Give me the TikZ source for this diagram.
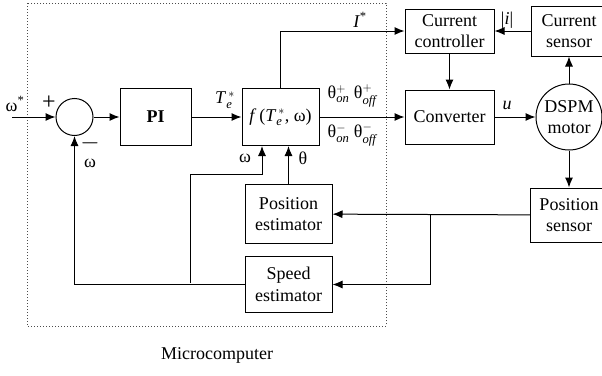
\documentclass[tikz,border=0pt]{standalone}
\usepackage{amsmath}
\usepackage{fontspec}
\setmainfont{Liberation Serif}
\usepackage{tikz}
\usetikzlibrary{arrows.meta,positioning}

\begin{document}
\begin{tikzpicture}[
  x=1pt,y=1pt,
  font=\fontsize{18}{21.5}\selectfont,
  blk/.style={draw,line width=1pt,align=center,inner sep=1pt},
  sumc/.style={draw,circle,line width=1pt,minimum size=37pt,inner sep=0pt},
  mot/.style={draw,circle,line width=1pt,minimum size=66pt,inner sep=0pt,
              align=center},
  arr/.style={-{Latex[length=10pt,width=8pt]},line width=1pt},
  lbl/.style={inner sep=0pt},
  sgn/.style={inner sep=0pt,font=\fontsize{24}{24}\selectfont}
]
\useasboundingbox (0,0) rectangle (602,-375);
% microcomputer frame
\draw[dotted,black!70,line width=1pt] (27,-3) rectangle (386,-326);
\node[lbl] (mc) at (217,-355) {Microcomputer};

% forward path
\node[sumc] (sum) at (74.5,-117) {};
\node[blk,minimum width=71pt,minimum height=57pt,right=26pt of sum] (pi) {\textbf{PI}};
\node[blk,minimum width=77pt,minimum height=57pt,right=50pt of pi] (f)
  {\textit{f}\,(\textit{T}$_{\textit{e}}^{\,*}$, ω)};
\node[blk,minimum width=89pt,minimum height=54pt,right=85pt of f] (conv) {Converter};
\node[mot,right=41pt of conv] (mot) {DSPM\\motor};
\node[blk,minimum width=89pt,minimum height=44pt,above=36pt of conv] (cc) {Current\\controller};
\node[blk,minimum width=76pt,minimum height=50pt,above=27pt of mot] (cs) {Current\\sensor};
\node[blk,minimum width=77pt,minimum height=54pt,below=37pt of mot] (ps) {Position\\sensor};
\node[blk,minimum width=87pt,minimum height=59pt] (pe) at (288.5,-214) {Position\\estimator};
\node[blk,minimum width=87pt,minimum height=56pt,below=12pt of pe] (se) {Speed\\estimator};

% labels
\node[lbl] (wref) at (15,-104) {ω\textsuperscript{*}};
\node[sgn] (plus) at (49,-103) {+};
\node[sgn] (minus) at (90,-143) {$-$};
\node[lbl] (wfb) at (90,-163) {ω};
\node[lbl] (te) at (225,-100) {\textit{T}$_{\textit{e}}^{\,*}$};
\node[lbl] (wf) at (245,-158) {ω};
\node[lbl] (thf) at (303,-158) {θ};
\node[lbl] (iref) at (360,-20) {\textit{I}\textsuperscript{*}};
\node[lbl] (imeas) at (507,-20) {|\textit{i}|};
\node[lbl] (thp) at (352,-96) {θ$^{+}_{\textit{on}}$\ θ$^{+}_{\textit{off}}$};
\node[lbl] (thm) at (352,-135) {θ$^{-}_{\textit{on}}$\ θ$^{-}_{\textit{off}}$};
\node[lbl] (ul) at (507,-105) {\textit{u}};

% connectors
\coordinate (win) at (12,-117);
\coordinate (br1) at (430,-214);
\coordinate (br2) at (190,-283);
\coordinate (wk) at (262,-174);
\draw[arr] (win) -- (sum.west);
\draw[arr] (sum) -- (pi);
\draw[arr] (pi) -- (f);
\draw[arr] (f) -- (conv);
\draw[arr] (conv) -- (mot);
\draw[arr] (cc) -- (conv);
\draw[arr] (cs) -- (cc);
\draw[arr] (f.north) |- (cc.west);
\draw[arr] (mot) -- (cs);
\draw[arr] (mot) -- (ps);
\draw[arr] (ps) -- (pe);
\draw[arr] (br1) |- (se.east);
\draw[arr] (se.west) -| (sum.south);
\draw[arr] (br2) |- (wk) -- (wk |- f.south);
\draw[arr] (pe.north) -- (pe.north |- f.south);
\end{tikzpicture}
\end{document}
